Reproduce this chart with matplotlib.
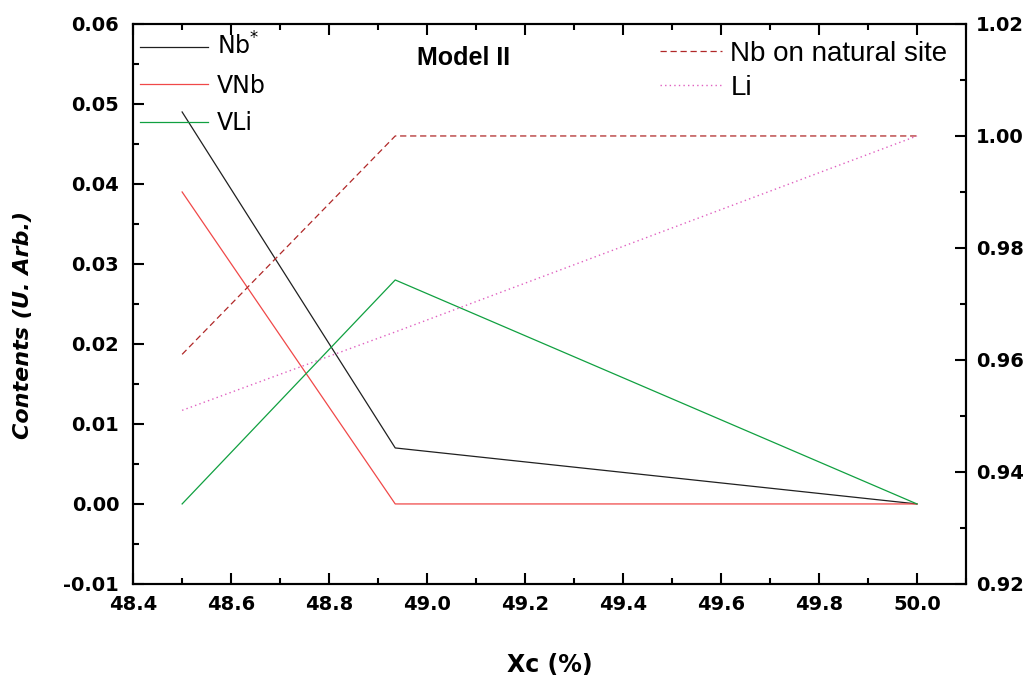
import matplotlib
matplotlib.use("Agg")
import matplotlib.pyplot as plt
from matplotlib.ticker import MultipleLocator, FormatStrFormatter

# Data
xc = [48.5, 48.935, 50.0]
nb_star = [0.049, 0.007, 0.0]
v_nb = [0.039, 0.0, 0.0]
v_li = [0.0, 0.028, 0.0]
nb_natural = [0.961, 1.0, 1.0]
li = [0.951, 0.965, 1.0]

fig = plt.figure(figsize=(10.32, 6.79), dpi=100)
ax = fig.add_axes([0.129, 0.140, 0.807, 0.8247])
ax2 = ax.twinx()

l1, = ax.plot(xc, nb_star, color="#202020", lw=0.9, label=r"Nb$^{*}$")
l2, = ax.plot(xc, v_nb, color="#f04848", lw=0.9, label="VNb")
l3, = ax.plot(xc, v_li, color="#10a040", lw=0.9, label="VLi")
l4, = ax2.plot(xc, nb_natural, color="#b02828", lw=0.9, ls=(0, (5, 3)), label="Nb on natural site")
l5, = ax2.plot(xc, li, color="#e060c0", lw=1.0, ls=(0, (1, 2.3)), label="Li")

ax.set_xlim(48.4, 50.1)
ax.set_ylim(-0.01, 0.06)
ax2.set_ylim(0.92, 1.02)

ax.xaxis.set_major_locator(MultipleLocator(0.2))
ax.xaxis.set_minor_locator(MultipleLocator(0.1))
ax.yaxis.set_major_locator(MultipleLocator(0.01))
ax.yaxis.set_minor_locator(MultipleLocator(0.005))
ax2.yaxis.set_major_locator(MultipleLocator(0.02))
ax2.yaxis.set_minor_locator(MultipleLocator(0.01))
ax.xaxis.set_major_formatter(FormatStrFormatter("%.1f"))
ax.yaxis.set_major_formatter(FormatStrFormatter("%.2f"))
ax2.yaxis.set_major_formatter(FormatStrFormatter("%.2f"))

for a in (ax, ax2):
    for s in a.spines.values():
        s.set_linewidth(1.5)

ax.tick_params(axis="x", which="major", direction="in", length=8, width=1.5, top=True, pad=8,
               labelsize=14)
ax.tick_params(axis="x", which="minor", direction="in", length=4, width=1.5, top=True)
ax.tick_params(axis="y", which="major", direction="in", length=8, width=1.5, pad=10, labelsize=14)
ax.tick_params(axis="y", which="minor", direction="in", length=4, width=1.5)
ax2.tick_params(axis="y", which="major", direction="in", length=8, width=1.5, pad=7, labelsize=14)
ax2.tick_params(axis="y", which="minor", direction="in", length=4, width=1.5)

for lab in ax.get_xticklabels() + ax.get_yticklabels() + ax2.get_yticklabels():
    lab.set_fontweight("bold")

ax.set_xlabel("Xc (%)", fontsize=17, fontweight="bold", labelpad=28)
ax.set_ylabel("Contents (U. Arb.)", fontsize=16, fontweight="bold", style="italic")
ax.yaxis.set_label_coords(-0.12, 0.4625)

ax.text(0.397, 0.939, "Model II", transform=ax.transAxes, fontsize=18, fontweight="bold",
        family="Liberation Sans", ha="center", va="center")

leg1 = ax2.legend(handles=[l1, l2, l3], loc="upper left", bbox_to_anchor=(-0.009, 1.0096),
                  frameon=False, fontsize=17, handlelength=2.88, handletextpad=0.38,
                  labelspacing=0.58, borderaxespad=0.2)
ax2.add_artist(leg1)
leg2 = ax2.legend(handles=[l4, l5], loc="upper right", bbox_to_anchor=(0.998, 1.0),
                  frameon=False, prop={"family": "Liberation Sans", "size": 20},
                  handlelength=2.23, handletextpad=0.32, labelspacing=0.3, borderaxespad=0.2)

fig.savefig("out.png", dpi=100)
